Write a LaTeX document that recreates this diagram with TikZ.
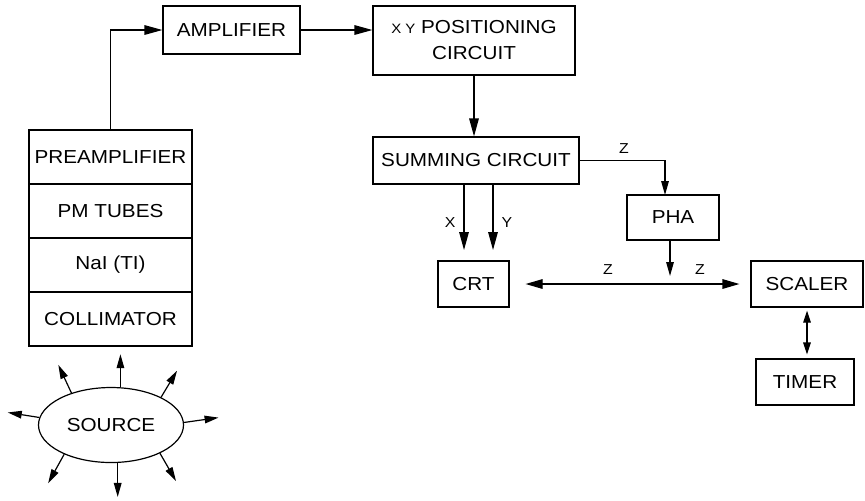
\documentclass[tikz,border=0pt]{standalone}
\usepackage{fontspec}
\setmainfont{Liberation Sans}[FakeStretch=1.1]
\usetikzlibrary{arrows.meta,positioning,shapes.geometric}

\begin{document}
\begin{tikzpicture}[x=0.5pt,y=-0.5pt,
    block/.style={rectangle, draw, line width=0.6pt, inner sep=0pt, align=center,
      font=\fontsize{9.4}{13}\selectfont},
    layer/.style={block, outer sep=0pt, minimum width=81.5pt, minimum height=27pt},
    arr/.style={line width=0.6pt, -{Triangle[length=9pt,width=4.8pt]}},
    sarr/.style={line width=0.6pt, -{Triangle[length=7pt,width=3.8pt]}},
    darr/.style={line width=0.6pt, {Triangle[length=8.5pt,width=4.8pt]}-{Triangle[length=8.5pt,width=4.8pt]}},
    sdarr/.style={line width=0.6pt, {Triangle[length=6pt,width=3.8pt]}-{Triangle[length=6pt,width=3.8pt]}},
    lbl/.style={font=\fontsize{7.2}{8}\selectfont, inner sep=1pt}]
    \useasboundingbox (0,0) rectangle (865,500);

    % detector head
    \node[layer] (Pre) at (110.5,157) {PREAMPLIFIER};
    \node[layer] (Pm) [below=0pt of Pre] {PM TUBES};
    \node[layer] (Nai) [below=0pt of Pm] {NaI (TI)};
    \node[layer] (Coll) [below=0pt of Nai] {COLLIMATOR};
    \node[ellipse, draw, line width=0.6pt, minimum width=72.5pt, minimum height=37.5pt,
      inner sep=0pt, font=\fontsize{9.4}{10}\selectfont] (Source) at (111,425) {SOURCE};

    % signal chain
    \node[block, minimum width=68.5pt, minimum height=24pt] (Amp) at (231.5,30) {AMPLIFIER};
    \node[block, minimum width=101pt, minimum height=34.5pt] (Xy) at (474,40.5)
      {{\fontsize{6.8}{13}\selectfont X Y} POSITIONING\\CIRCUIT};
    \node[block, minimum width=103pt, minimum height=23.5pt] (Sum) at (476,160.5) {SUMMING CIRCUIT};
    \node[block, minimum width=35.5pt, minimum height=23pt] (Crt) at (473.5,284) {CRT};
    \node[block, minimum width=46pt, minimum height=22.5pt] (Pha) at (673,217.5) {PHA};
    \node[block, minimum width=56pt, minimum height=23pt] (Scaler) at (807,284) {SCALER};
    \node[block, minimum width=49pt, minimum height=23pt] (Timer) at (805,382) {TIMER};

    \coordinate (Xin) at (464,261);
    \coordinate (Yin) at (493,261);
    \coordinate (Zin) at (665,195);
    \coordinate (Zout) at (670,276);

    \draw[arr] (Pre.north) |- (Amp.west);
    \draw[arr] (Amp.east) -- (Amp.east -| Xy.west);
    \draw[arr] (Xy.south) -- (Xy.south |- Sum.north);
    \draw[arr,shorten >=5.5pt] (Xin |- Sum.south) -- node[lbl,left=3pt] {X} (Xin);
    \draw[arr,shorten >=5.5pt] (Yin |- Sum.south) -- node[lbl,right=3pt] {Y} (Yin);
    \draw[sarr] (Sum.east) -| node[lbl,above=2pt,pos=0.26] {Z} (Zin);
    \draw[sarr] (Pha.south -| Zout) -- (Zout);
    \draw[darr,shorten <=8pt,shorten >=5.5pt] (Crt.east) -- (Scaler.west);
    \node[lbl] (Zcrt) at (608,270) {Z};
    \node[lbl] (Zscl) at (700,270) {Z};
    \draw[sdarr,shorten <=1.5pt,shorten >=2pt] (Scaler.south) -- (Scaler.south |- Timer.north);

    % radiation leaving the source
    \foreach \a/\d/\l in {76/90/16.5, 141/115/15.5, 29/59/15.5, 174/171/16,
        2/8/17.5, 212/241/16.5, 280/270/17, 330/300/16}
      \draw[sarr] (Source.\a) -- ++(\d:\l pt);
\end{tikzpicture}
\end{document}
